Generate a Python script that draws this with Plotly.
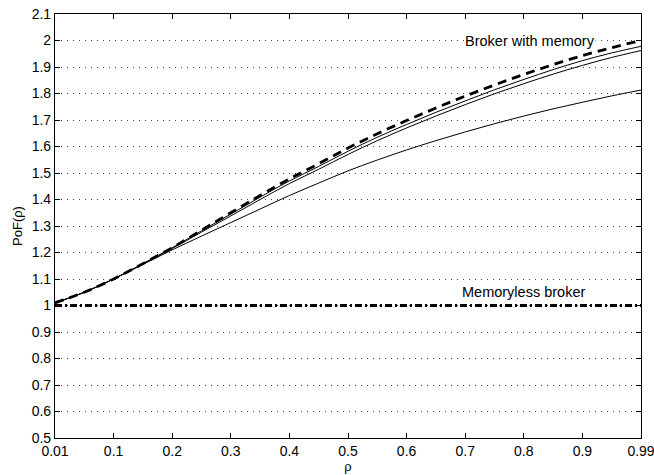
import plotly.graph_objects as go

# positions along the rho axis (tick labels 0.01 ... 0.99)
x_pos = [0, 0.05, 0.1, 0.15, 0.2, 0.25, 0.3, 0.35, 0.4, 0.45, 0.5,
         0.55, 0.6, 0.65, 0.7, 0.75, 0.8, 0.85, 0.9, 0.95, 1.0]

pof_bound = [1.01, 1.05, 1.10, 1.158, 1.218, 1.284, 1.35, 1.415, 1.478, 1.535, 1.594,
             1.648, 1.698, 1.745, 1.79, 1.832, 1.872, 1.909, 1.943, 1.973, 2.0]
pof_mem_a = [1.01, 1.05, 1.10, 1.158, 1.218, 1.282, 1.345, 1.409, 1.470, 1.525, 1.582,
             1.635, 1.683, 1.729, 1.772, 1.814, 1.853, 1.890, 1.924, 1.953, 1.978]
pof_mem_b = [1.01, 1.05, 1.10, 1.157, 1.215, 1.277, 1.338, 1.400, 1.460, 1.514, 1.570,
             1.622, 1.670, 1.715, 1.758, 1.799, 1.837, 1.873, 1.906, 1.936, 1.962]
pof_mem_c = [1.01, 1.05, 1.10, 1.155, 1.21, 1.262, 1.313, 1.364, 1.415, 1.462, 1.508,
             1.549, 1.587, 1.622, 1.655, 1.686, 1.715, 1.742, 1.767, 1.791, 1.813]
pof_memoryless = [1.0] * len(x_pos)

x_tickvals = [0, 0.1, 0.2, 0.3, 0.4, 0.5, 0.6, 0.7, 0.8, 0.9, 1.0]
x_ticktext = ["0.01", "0.1", "0.2", "0.3", "0.4", "0.5", "0.6", "0.7", "0.8", "0.9", "0.99"]
y_tickvals = [0.5, 0.6, 0.7, 0.8, 0.9, 1.0, 1.1, 1.2, 1.3, 1.4, 1.5, 1.6, 1.7, 1.8, 1.9, 2.0, 2.1]
y_ticktext = ["0.5", "0.6", "0.7", "0.8", "0.9", "1", "1.1", "1.2", "1.3", "1.4", "1.5",
              "1.6", "1.7", "1.8", "1.9", "2", "2.1"]

fig = go.Figure()
fig.add_trace(go.Scatter(x=x_pos, y=pof_memoryless, mode="lines",
                         line=dict(color="black", width=2.8, dash="7px,3px,2px,3px")))
fig.add_trace(go.Scatter(x=x_pos, y=pof_mem_c, mode="lines", line=dict(color="black", width=1, shape="spline")))
fig.add_trace(go.Scatter(x=x_pos, y=pof_mem_b, mode="lines", line=dict(color="black", width=1, shape="spline")))
fig.add_trace(go.Scatter(x=x_pos, y=pof_mem_a, mode="lines", line=dict(color="black", width=1, shape="spline")))
fig.add_trace(go.Scatter(x=x_pos, y=pof_bound, mode="lines",
                         line=dict(color="black", width=2.8, dash="9px,6px", shape="spline")))

fig.add_annotation(x=0.81, y=2.0, text="Broker with memory", showarrow=False,
                   bgcolor="white", borderpad=0, font=dict(size=14.5, color="black"))
fig.add_annotation(x=0.80, y=1.052, text="Memoryless broker", showarrow=False,
                   font=dict(size=14.5, color="black"))

fig.update_layout(
    width=654, height=475,
    margin=dict(l=55, r=13, t=14, b=37),
    paper_bgcolor="white", plot_bgcolor="white",
    showlegend=False,
    font=dict(family="Liberation Sans, Arial, sans-serif", size=14, color="black"),
)
fig.update_xaxes(range=[0, 1], tickvals=x_tickvals, ticktext=x_ticktext, automargin=False,
                 ticklabeloverflow="allow",
                 showline=True, linecolor="black", linewidth=1.2, mirror="ticks",
                 ticks="inside", ticklen=5, tickcolor="black", showgrid=False, zeroline=False,
                 tickfont=dict(size=14),
                 title=dict(text="ρ", standoff=0, font=dict(size=13)))
fig.update_yaxes(range=[0.5, 2.1], tickvals=y_tickvals, ticktext=y_ticktext, automargin=False,
                 ticklabeloverflow="allow",
                 showline=True, linecolor="black", linewidth=1.2, mirror="ticks",
                 ticks="inside", ticklen=5, tickcolor="black",
                 showgrid=True, gridcolor="#444", gridwidth=1, griddash="1px,5px", zeroline=False,
                 tickfont=dict(size=14),
                 title=dict(text="PoF(ρ)", standoff=6, font=dict(size=13)))

fig.write_html("out.html")
